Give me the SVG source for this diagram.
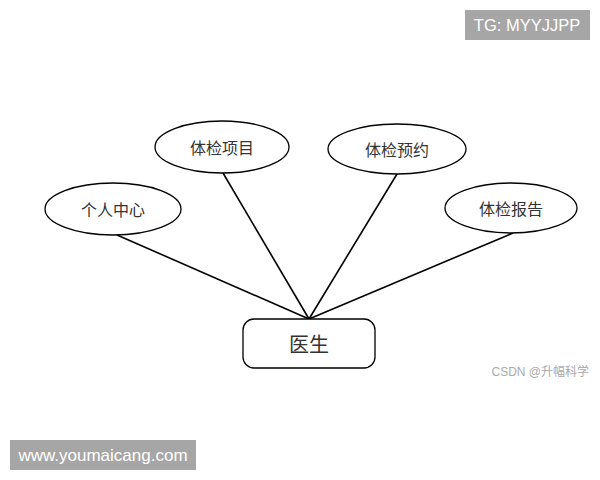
<svg xmlns="http://www.w3.org/2000/svg" width="600" height="480" viewBox="0 0 600 480">
<style>
.n{fill:#fff;stroke:#000;stroke-width:1.3}
.t{font-family:"Noto Sans CJK SC","Noto Sans",sans-serif;fill:#333;text-anchor:middle;dominant-baseline:central}
.c line{stroke:#000;stroke-width:1.6}
.wm{font-family:"Liberation Sans",Arial,sans-serif;fill:#fff}
</style>
<rect width="600" height="480" fill="#fff"/>
<g class="c" id="connectors">
<line x1="117" y1="235" x2="309" y2="319"/>
<line x1="223" y1="173" x2="309" y2="319"/>
<line x1="397" y1="174" x2="309" y2="319"/>
<line x1="513" y1="233" x2="309" y2="319"/>
</g>
<g id="n-gerenzhongxin"><ellipse class="n" cx="113" cy="209" rx="68" ry="26"/><text class="t" x="113" y="209" font-size="16">个人中心</text></g>
<g id="n-tijianxiangmu"><ellipse class="n" cx="222" cy="147" rx="67" ry="26"/><text class="t" x="222" y="147" font-size="16">体检项目</text></g>
<g id="n-tijianyuyue"><ellipse class="n" cx="397" cy="149" rx="69" ry="25"/><text class="t" x="397" y="149" font-size="16">体检预约</text></g>
<g id="n-tijianbaogao"><ellipse class="n" cx="511" cy="208" rx="66" ry="25"/><text class="t" x="511" y="208" font-size="16">体检报告</text></g>
<g id="n-yisheng"><rect class="n" x="243" y="319" width="132" height="49" rx="11"/><text class="t" x="309" y="343" font-size="20">医生</text></g>
<rect x="465" y="10" width="125" height="30" fill="#a6a6a6"/>
<text class="wm" x="527" y="31" font-size="16.5" text-anchor="middle">TG: MYYJJPP</text>
<rect x="10" y="440" width="186" height="30" fill="#a6a6a6"/>
<text class="wm" x="103" y="461" font-size="17" text-anchor="middle">www.youmaicang.com</text>
<text x="589" y="376" font-size="12" fill="#aaa" text-anchor="end" font-family="Liberation Sans,Noto Sans CJK SC,sans-serif">CSDN @升幅科学</text>
</svg>
